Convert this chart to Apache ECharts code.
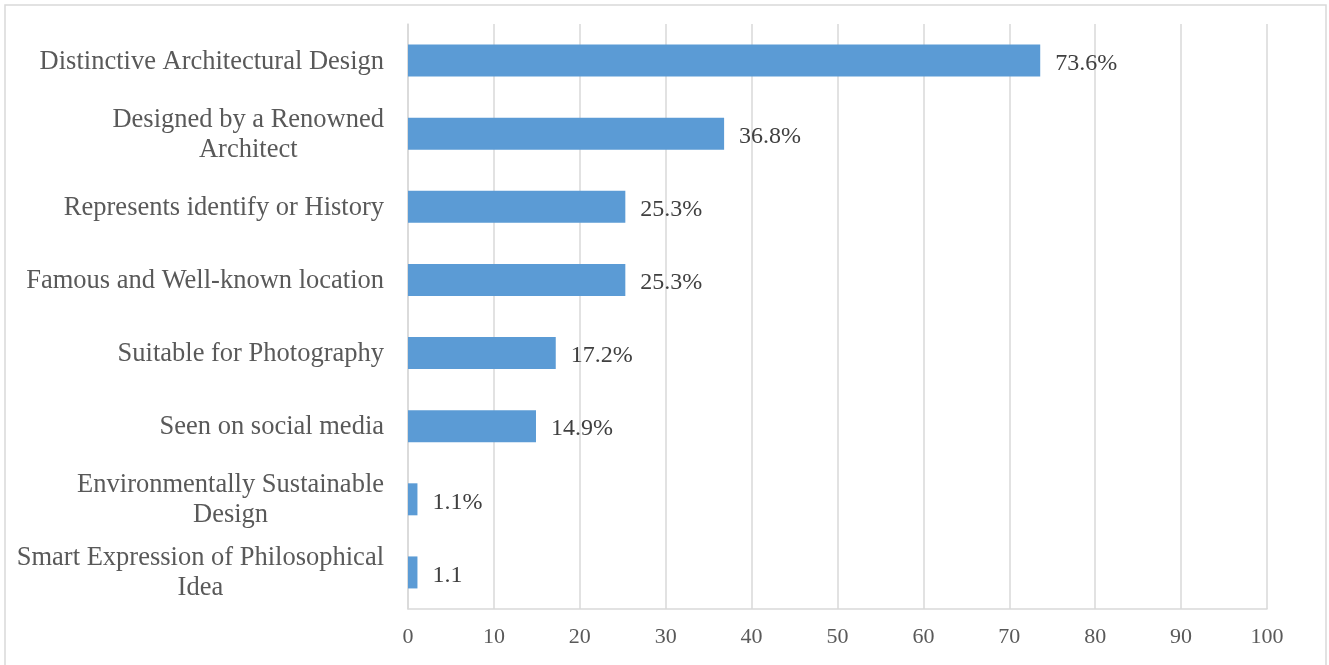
<!DOCTYPE html>
<html>
<head>
<meta charset="utf-8">
<script src="https://cdn.jsdelivr.net/npm/echarts@6/dist/echarts.min.js"></script>
<style>
html,body{margin:0;padding:0;background:#fff;}
#chart{width:1329px;height:665px;}
</style>
</head>
<body>
<div id="chart"></div>
<script>
const categories = [
  "Distinctive Architectural Design",
  "Designed by a Renowned\nArchitect",
  "Represents identify or History",
  "Famous and Well-known location",
  "Suitable for Photography",
  "Seen on social media",
  "Environmentally Sustainable\nDesign",
  "Smart Expression of Philosophical\nIdea"
];
const values = [73.6, 36.8, 25.3, 25.3, 17.2, 14.9, 1.1, 1.1];
const valueLabels = ["73.6%", "36.8%", "25.3%", "25.3%", "17.2%", "14.9%", "1.1%", "1.1"];
const xTicks = [0, 10, 20, 30, 40, 50, 60, 70, 80, 90, 100];

const FONT = '"Liberation Serif", "Times New Roman", serif';
const chart = echarts.init(document.getElementById('chart'));
chart.setOption({
  animation: false,
  backgroundColor: '#ffffff',
  graphic: [{
    type: 'rect',
    shape: { x: 5, y: 5, width: 1321, height: 700 },
    style: { fill: 'none', stroke: '#d9d9d9', lineWidth: 1.5 },
    silent: true,
    z: -10
  }],
  grid: { left: 408, right: 62, top: 24, bottom: 56, containLabel: false },
  xAxis: {
    type: 'value',
    min: xTicks[0],
    max: xTicks[xTicks.length - 1],
    interval: 10,
    axisLine: { show: true, lineStyle: { color: '#d9d9d9', width: 1.5 } },
    axisTick: { show: false },
    splitLine: { show: true, lineStyle: { color: '#d9d9d9', width: 1.5 } },
    axisLabel: { color: '#595959', fontFamily: FONT, fontSize: 22, margin: 17 }
  },
  yAxis: {
    type: 'category',
    inverse: true,
    data: categories,
    axisLine: { show: true, lineStyle: { color: '#d9d9d9', width: 1.5 } },
    axisTick: { show: false },
    splitLine: { show: false },
    axisLabel: {
      color: '#595959',
      fontFamily: FONT,
      fontSize: 26.5,
      margin: 24,
      lineHeight: 30,
      formatter: function (v) {
        return v.split('\n').map(function (s) { return '{c|' + s + '}'; }).join('\n');
      },
      rich: {
        c: { align: 'center', color: '#595959', fontFamily: FONT, fontSize: 26.5, lineHeight: 30, padding: [2, 0, 0, 0] }
      }
    }
  },
  series: [{
    type: 'bar',
    data: values,
    barWidth: 32,
    itemStyle: { color: '#5b9bd5' },
    label: {
      show: true,
      position: 'right',
      distance: 15,
      offset: [0, 3],
      color: '#404040',
      fontFamily: FONT,
      fontSize: 24,
      formatter: function (p) { return valueLabels[p.dataIndex]; }
    }
  }]
});
</script>
</body>
</html>
